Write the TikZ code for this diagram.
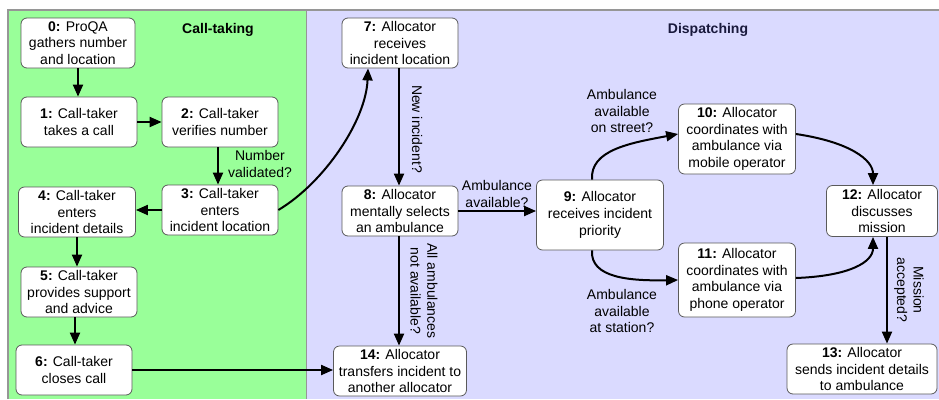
\documentclass[tikz,border=0pt]{standalone}
\usepackage{fontspec}
\setmainfont{Liberation Sans}
\usetikzlibrary{arrows.meta}
\definecolor{greenpanel}{RGB}{153,255,153}
\definecolor{bluepanel}{RGB}{218,218,255}
\definecolor{boxline}{RGB}{90,90,90}
\definecolor{paneline}{RGB}{150,150,150}
\definecolor{titleblue}{RGB}{25,25,60}
\begin{document}
\begin{tikzpicture}[x=1pt,y=-1pt,
  stepbox/.style={draw=boxline,fill=white,rounded corners=6pt,line width=0.8pt,
    align=center,inner sep=0pt,font=\fontsize{14}{16.7}\selectfont},
  flow/.style={line width=2pt,-{Triangle[length=12pt,width=10pt]}},
  lbl/.style={align=center,inner sep=0pt,font=\fontsize{14}{16.7}\selectfont},
  ttl/.style={inner sep=0pt,font=\fontsize{14}{16.7}\selectfont\bfseries}]
\useasboundingbox (0,0) rectangle (939,399);
\fill[white] (0,0) rectangle (939,399);
\fill[greenpanel] (8,10) rectangle (306,399);
\fill[bluepanel] (306,10) rectangle (939,399);
\draw[paneline,line width=1.8pt] (8,399) -- (8,10) -- (939,10);
\draw[paneline,line width=0.6pt] (306,10) -- (306,399);

\node[ttl] (t1) at (218,30) {Call-taking};
\node[ttl,text=titleblue] (t2) at (708,30) {Dispatching};

\node[stepbox,minimum width=114,minimum height=50] (n0) at (78,43) {\textbf{0:} ProQA\\gathers number\\and location};
\node[stepbox,minimum width=116,minimum height=50] (n1) at (79,122) {\textbf{1:} Call-taker\\takes a call};
\node[stepbox,minimum width=116,minimum height=50] (n2) at (220,122) {\textbf{2:} Call-taker\\verifies number};
\node[stepbox,minimum width=116,minimum height=50] (n3) at (220,210) {\textbf{3:} Call-taker\\enters\\incident location};
\node[stepbox,minimum width=117,minimum height=50] (n4) at (77,212) {\textbf{4:} Call-taker\\enters\\incident details};
\node[stepbox,minimum width=116,minimum height=50] (n5) at (79,292) {\textbf{5:} Call-taker\\provides support\\and advice};
\node[stepbox,minimum width=116,minimum height=50] (n6) at (74,370) {\textbf{6:} Call-taker\\closes call};
\node[stepbox,minimum width=116,minimum height=50] (n7) at (400,43) {\textbf{7:} Allocator\\receives\\incident location};
\node[stepbox,minimum width=116,minimum height=50] (n8) at (400,211) {\textbf{8:} Allocator\\mentally selects\\an ambulance};
\node[stepbox,minimum width=133,minimum height=50] (n14) at (400,371) {\textbf{14:} Allocator\\transfers incident to\\another allocator};
\node[stepbox,minimum width=127,minimum height=70] (n9) at (600,215) {\textbf{9:} Allocator\\receives incident\\priority};
\node[stepbox,minimum width=117,minimum height=70] (n10) at (737,139) {\textbf{10:} Allocator\\coordinates with\\ambulance via\\mobile operator};
\node[stepbox,minimum width=117,minimum height=74] (n11) at (737,280) {\textbf{11:} Allocator\\coordinates with\\ambulance via\\phone operator};
\node[stepbox,minimum width=111,minimum height=51] (n12) at (882,211) {\textbf{12:} Allocator\\discusses\\mission};
\node[stepbox,minimum width=150,minimum height=50] (n13) at (862,369) {\textbf{13:} Allocator\\sends incident details\\to ambulance};

\draw[flow] ([xshift=0pt]n0.south) -- (n0.south |- n1.north);
\draw[flow] (n1.east) -- (n1.east -| n2.west);
\draw[flow] ([xshift=-2pt]n2.south) -- ([xshift=-2pt]n2.south |- n3.north);
\draw[flow] (n3.west) -- (n3.west -| n4.east);
\draw[flow] (n4.south) -- (n4.south |- n5.north);
\draw[flow] ([xshift=-4pt]n5.south) -- ([xshift=-4pt]n5.south |- n6.north);
\draw[flow] (n6.east) -- (n6.east -| n14.west);
\draw[flow] (n3.east) .. controls (325,182) and (366,120) .. ([xshift=-32pt]n7.south);
\draw[flow] ([xshift=-1pt]n7.south) -- ([xshift=-1pt]n7.south |- n8.north);
\draw[flow] (n8.east) -- (n8.east -| n9.west);
\draw[flow] ([xshift=-1pt]n8.south) -- ([xshift=-1pt]n8.south |- n14.north);
\draw[flow] ([xshift=-8pt]n9.north) .. controls (590,150) and (630,143) .. ([yshift=5pt]n10.west);
\draw[flow] ([xshift=-8pt]n9.south) .. controls (590,278) and (630,281) .. (n11.west);
\draw[flow] ([yshift=5pt]n10.east) .. controls (850,142) and (873,160) .. ([xshift=-9pt]n12.north);
\draw[flow] ([yshift=2pt]n11.east) .. controls (850,276) and (873,262) .. ([xshift=-9pt]n12.south);
\draw[flow] ([xshift=5pt]n12.south) -- ([xshift=5pt]n12.south |- n13.north);

\node[lbl] (l1) at (260,164) {Number\\validated?};
\node[lbl,rotate=-90] (l2) at (417,129) {New incident?};
\node[lbl] (l3) at (497,194) {Ambulance\\available?};
\node[lbl,rotate=-90] (l4) at (424,291) {All ambulances\\not available?};
\node[lbl] (l5) at (622,111) {Ambulance\\available\\on street?};
\node[lbl] (l6) at (622,311) {Ambulance\\available\\at station?};
\node[lbl,rotate=-90] (l7) at (909,290) {Mission\\accepted?};
\end{tikzpicture}
\end{document}
